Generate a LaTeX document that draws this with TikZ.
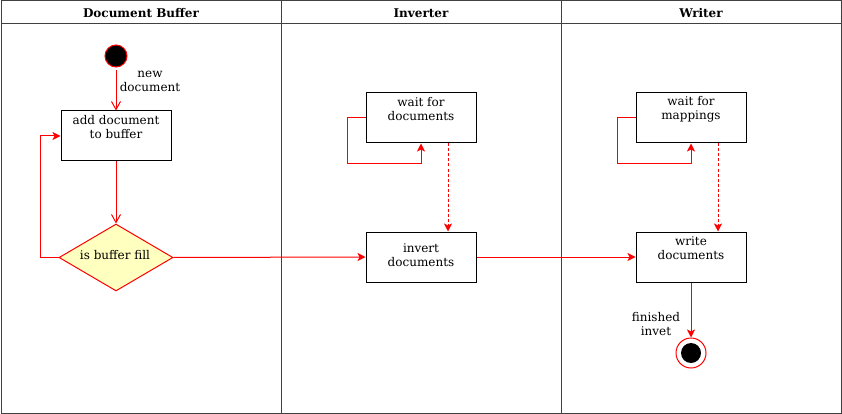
\documentclass[tikz,border=0pt]{standalone}
\usepackage{fontspec}
\setmainfont{DejaVu Serif}
\usetikzlibrary{arrows.meta,shapes.geometric}
\definecolor{fillyel}{HTML}{FFFFC0}
\definecolor{flowred}{HTML}{FF0000}
\begin{document}
\begin{tikzpicture}[x=1pt,y=-1pt,
  font=\fontsize{12}{14}\selectfont,
  lane/.style={draw=black!75, line width=1pt},
  act/.style={rectangle, draw=black, line width=1pt, minimum width=110pt, minimum height=50pt, inner sep=0pt},
  txt/.style={align=center, inner sep=0pt},
  hdr/.style={font=\fontsize{12}{14}\selectfont\bfseries, inner sep=0pt},
  flow/.style={color=flowred, line width=1pt},
  openarr/.style={-{Straight Barb[length=8pt,width=9pt,line width=1pt]}},
  fillarr/.style={-{Stealth[length=8pt,width=8pt,inset=2pt]}},
  dotflow/.style={color=flowred, line width=1pt, dash pattern=on 3pt off 2pt},
]
\useasboundingbox (0,0) rectangle (842,414);
% lanes
\draw[lane] (1,1) rectangle (841,413);
\draw[lane] (281,1) -- (281,413);
\draw[lane] (561,1) -- (561,413);
\draw[lane] (1,24) -- (841,24);
\node[hdr] (h1) at (141,13) {Document Buffer};
\node[hdr] (h2) at (421,13) {Inverter};
\node[hdr] (h3) at (701,13) {Writer};

% Document Buffer lane
\node[circle, fill=black, draw=flowred, line width=1pt, minimum size=22pt, inner sep=0pt] (start) at (116,56) {};
\node[txt] (newdoc) at (150,81.5) {new\\document};
\node[act] (add) at (116,136) {};
\node[txt] (addt) at (116,127) {add document\\to buffer};
\node[diamond, draw=flowred, fill=fillyel, line width=1pt, minimum width=114pt, minimum height=67pt, inner sep=0pt] (dia) at (116,257.5) {};
\node[txt] (diat) at (115,255) {is buffer fill};

\draw[flow, openarr, shorten <=3pt] (start.south) -- (add.north);
\draw[flow, openarr] (add.south) -- (dia.north);
\coordinate (loopA) at (40,257.5);
\draw[flow, fillarr] (dia.west) -- (loopA) |- (add.west);

% Inverter lane
\node[act] (wd) at (421,118) {};
\node[txt] (wdt) at (421,109) {wait for\\documents};
\node[act] (inv) at (421,257) {};
\node[txt] (invt) at (421,255) {invert\\documents};
\coordinate (loopB) at (347,164);
\draw[flow, fillarr] (wd.west) -| (loopB) -| (wd.south);
\draw[dotflow, fillarr] ([xshift=27pt]wd.south) -- ([xshift=27pt]inv.north);
\draw[flow, fillarr] (dia.east) -- (inv.west);

% Writer lane
\node[act] (wm) at (691,118) {};
\node[txt] (wmt) at (691,109) {wait for\\mappings};
\node[act] (wr) at (691,257) {};
\node[txt] (wrt) at (691,248) {write\\documents};
\coordinate (loopC) at (617,164);
\draw[flow, fillarr] (wm.west) -| (loopC) -| (wm.south);
\draw[dotflow, fillarr] ([xshift=27pt]wm.south) -- ([xshift=27pt]wr.north);
\draw[flow, fillarr] (inv.east) -- (wr.west);

\node[circle, draw=flowred, fill=white, line width=1pt, minimum size=30pt, inner sep=0pt] (end) at (691,353) {};
\node[circle, fill=black, minimum size=20pt, inner sep=0pt] (endin) at (end.center) {};
\node[txt] (fin) at (656,324) {finished\\invet};
\draw[flow, fillarr] (wr.south) -- (end.north);
\end{tikzpicture}
\end{document}
